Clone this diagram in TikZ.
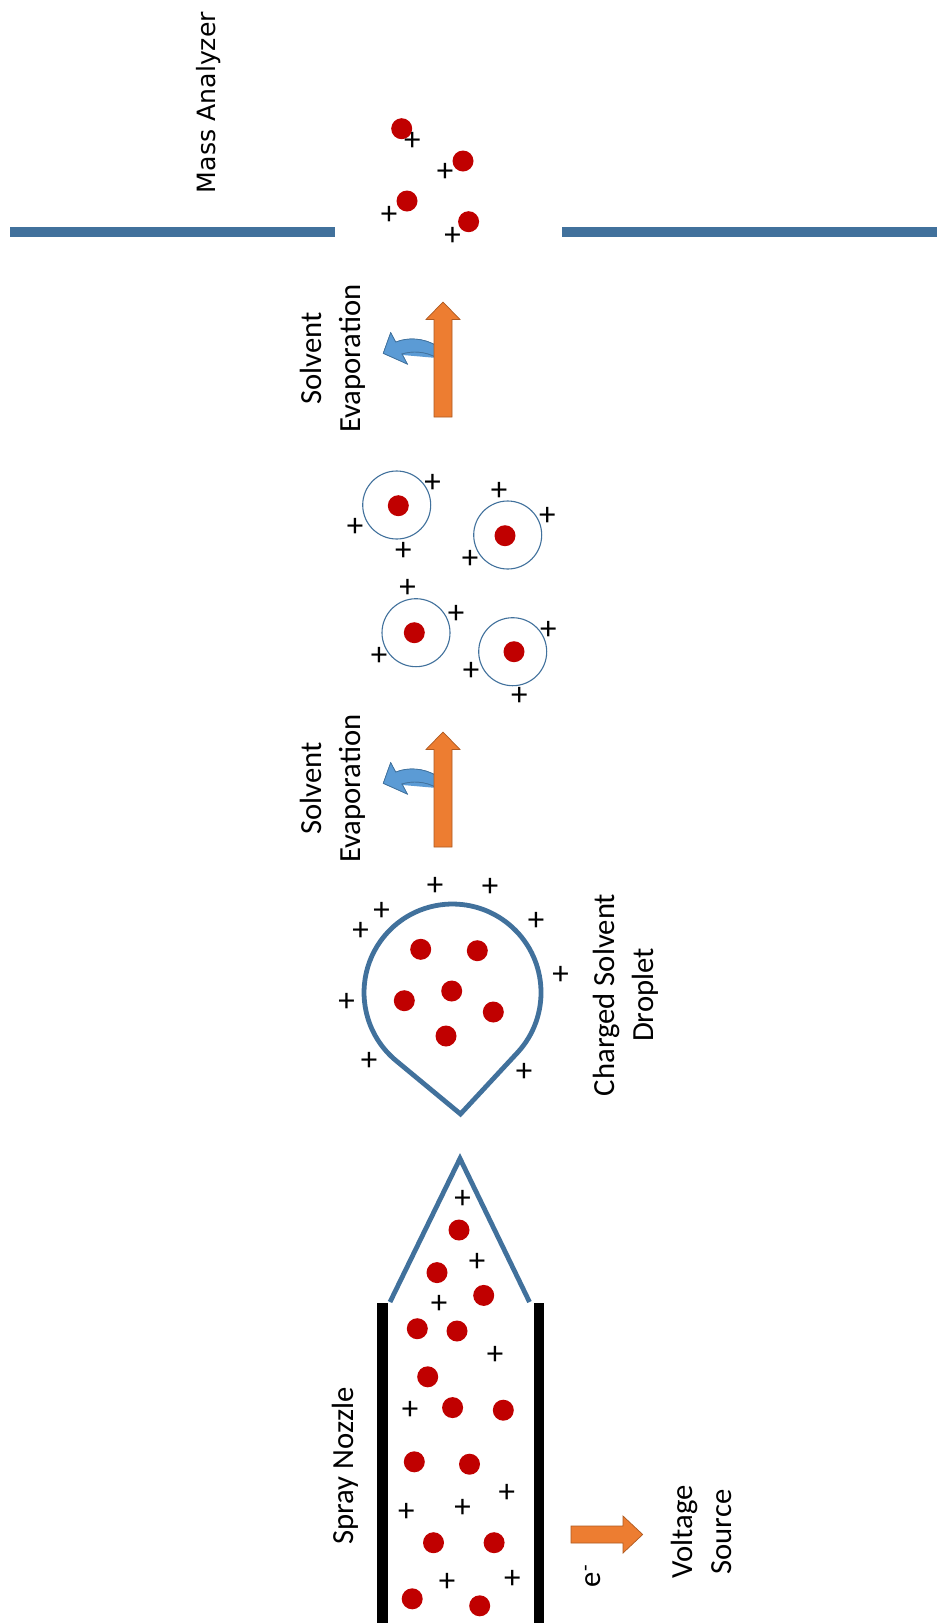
\documentclass[tikz,border=0pt]{standalone}
\usepackage{fontspec}
\setmainfont{Carlito}
\newfontfamily\dejavusans{DejaVu Sans}
\definecolor{edgeblue}{HTML}{41719C}
\definecolor{fillblue}{HTML}{5B9BD5}
\definecolor{ionred}{HTML}{C00000}
\definecolor{arroworange}{HTML}{ED7D31}
\definecolor{arrowedge}{HTML}{AE5A21}

\begin{document}
\begin{tikzpicture}[x=1pt,y=1pt,
  label/.style={font=\fontsize{30.7}{39}\selectfont, rotate=90, align=center, inner sep=0},
  charge/.style={font=\fontsize{33}{33}\selectfont, inner sep=0},
  ion/.style={circle, fill=ionred, minimum size=21pt, inner sep=0},
  shell/.style={circle, draw=edgeblue, line width=1.1pt, minimum size=68pt, inner sep=0},
  plate/.style={fill=edgeblue},
  flow/.style={fill=arroworange, draw=arrowedge, line width=0.7pt},
  curl/.style={fill=fillblue, draw=edgeblue, line width=0.7pt},
  skin/.style={draw=edgeblue, line width=4.8pt, line join=miter}
]
% canvas
\fill[white] (0,0) rectangle (937,-1623);
\path[use as bounding box] (0,0) rectangle (937,-1623);

% ---------- mass analyzer entrance ----------
\node[rotate=90, inner sep=0, font=\dejavusans\fontsize{25.2}{30}\selectfont] (analyzer) at (209,-102.5) {Mass Analyzer};
\fill[plate] (10.4,-226.7) rectangle (335,-237.3);
\fill[plate] (562,-226.7) rectangle (937,-237.3);
\foreach \x/\y [count=\k] in {401.7/128.7, 463/161, 407/201, 468.6/221.7}
  \node[ion] (free-ion-\k) at (\x,-\y) {};
\foreach \x/\y [count=\k] in {412.4/141.7, 445/172, 389/215, 452.5/236}
  \node[charge] (free-charge-\k) at (\x,-\y) {+};

% ---------- two evaporation stages ----------
\foreach \dy [count=\g] in {0,430} {
  \begin{scope}[yshift=-\dy]
    \fill[curl] (383.3,-353.3) -- (390.7,-332.7) -- (395.7,-342.1)
      .. controls (408,-337) and (424,-338) .. (437,-346) -- (437,-358)
      .. controls (425,-351) and (412,-351) .. (402,-354)
      -- (407.3,-364) -- cycle;
    \draw[curl] (383.3,-353.3) -- (390.7,-332.7) -- (395.7,-342.1)
      .. controls (408,-337) and (424,-338) .. (437,-346)
      (437,-358) .. controls (425,-351) and (412,-351) .. (402,-354)
      -- (407.3,-364) -- (383.3,-353.3);
    \filldraw[flow] (434,-417) -- (434,-319.5) -- (426,-319.5) -- (443,-302)
      -- (460,-319.5) -- (452,-319.5) -- (452,-417) -- cycle;
    \node[label] (evaporation-\g) at (333,-358.5) {Solvent\\Evaporation};
  \end{scope}
}

% ---------- desolvated ions in thin shells ----------
\foreach \cx/\cy/\ix/\iy [count=\k] in {396.7/505/398.3/505.7, 507.7/535/505/535.7,
    416/632.7/414.3/632.7, 512.7/651.7/514/651.7} {
  \node[shell] (shell-\k) at (\cx,-\cy) {};
  \node[ion] (shell-ion-\k) at (\ix,-\iy) {};
}
\foreach \x/\y [count=\k] in {432.7/483.3, 355/527.3, 403.3/551.7,
    499/491.7, 547.3/516, 470/559.3,
    407.7/588.3, 456/614, 379/656,
    548.3/630, 471/671.7, 519.3/696.7}
  \node[charge] (shell-charge-\k) at (\x,-\y) {+};

% ---------- charged solvent droplet ----------
\draw[skin] (460.5,-1114) -- (517.4,-1052.7)
  arc[start angle=-42.85, end angle=230.39, radius=88.5] -- cycle;
\foreach \x/\y [count=\k] in {420.7/949.3, 477.3/950.7, 451.7/991,
    404.3/1000.7, 493.3/1012, 446/1036}
  \node[ion] (drop-ion-\k) at (\x,-\y) {};
\foreach \x/\y [count=\k] in {435/886.7, 490/887.3, 381.7/911.7, 360.7/931.7,
    536/921.7, 560.7/975.7, 346.7/1002.7, 369/1061.7, 524/1072.7}
  \node[charge] (drop-charge-\k) at (\x,-\y) {+};
\node[label] (droplet) at (626,-995) {Charged Solvent\\Droplet};

% ---------- spray nozzle with Taylor cone ----------
\draw[skin] (390,-1302) -- (460,-1158.5) -- (529.5,-1302);
\fill (377,-1303.3) rectangle (387.5,-1623);
\fill (534.3,-1303.3) rectangle (544,-1623);
\foreach \x/\y [count=\k] in {459/1230, 437/1272.6, 483.7/1295.4, 417.3/1328.7,
    457/1331, 427.7/1376.8, 452.6/1407.6, 503.3/1410.2, 414.3/1461.8, 469.5/1464.2,
    433.5/1542.7, 494.1/1542.7, 412.2/1598.8, 479.7/1605.8}
  \node[ion] (nozzle-ion-\k) at (\x,-\y) {};
\foreach \x/\y [count=\k] in {462.7/1199.5, 477/1262.2, 439.2/1304.4, 495/1355,
    410.2/1410.2, 506.8/1493.7, 406.3/1512, 462.7/1508.4, 447/1582.4, 512.4/1579}
  \node[charge] (nozzle-charge-\k) at (\x,-\y) {+};
\node[label] (nozzle) at (345.5,-1466) {Spray Nozzle};

% ---------- electron flow to the voltage source ----------
\filldraw[flow] (571,-1526) -- (623,-1526) -- (623,-1516) -- (642.7,-1534.5)
  -- (623,-1553) -- (623,-1543) -- (571,-1543) -- cycle;
\node[label] (electron) at (593,-1576) {e\textsuperscript{-}};
\node[label] (source) at (701.7,-1532) {Voltage\\Source};
\end{tikzpicture}
\end{document}
